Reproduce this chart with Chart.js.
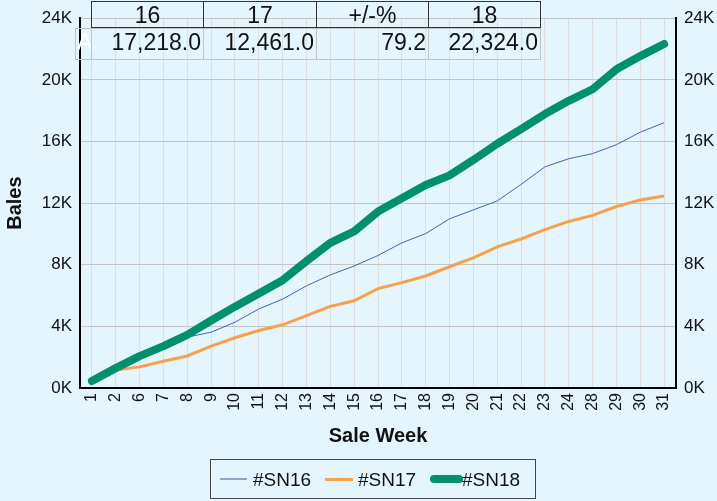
<!DOCTYPE html>
<html><head><meta charset="utf-8">
<script src="https://cdn.jsdelivr.net/npm/chart.js@4/dist/chart.umd.min.js"></script>
<style>
html,body{margin:0;padding:0;background:#E5F5FE;}
#wrap{position:relative;width:717px;height:501px;overflow:hidden;font-family:"Liberation Sans",Arial,sans-serif;}
#c{position:absolute;left:0;top:0;}
.cell{position:absolute;box-sizing:border-box;font-size:23px;color:#111;white-space:nowrap;}
.hd{border:1px solid #333;text-align:center;line-height:26px;}
.rw{border:1px solid #c2c2c2;text-align:right;padding-right:2px;line-height:27px;}
#legend{position:absolute;left:210px;top:459px;width:326px;height:40px;box-sizing:border-box;border:1px solid #444;}
.lg{position:absolute;}
.lt{position:absolute;font-size:19px;color:#111;line-height:20px;top:10px;}
</style></head>
<body>
<div id="wrap">
<canvas id="c" width="717" height="501"></canvas>
<div id="table"></div>
<div id="legend"></div>
</div>
<script>
const weeks = ['1','2','6','7','8','9','10','11','12','13','14','15','16','17','18','19','20','21','22','23','24','28','29','30','31'];
const sn16 = [450,1300,2000,2700,3300,3620,4270,5130,5770,6630,7340,7920,8600,9420,10020,10980,11560,12140,13210,14350,14880,15210,15790,16600,17218];
const sn17 = [450,1160,1370,1740,2080,2720,3260,3730,4100,4700,5300,5660,6450,6840,7270,7870,8450,9160,9670,10280,10810,11200,11780,12200,12461];
const sn18 = [450,1290,2070,2720,3450,4380,5280,6130,7000,8240,9420,10170,11450,12310,13170,13800,14800,15850,16800,17780,18640,19390,20680,21540,22324];
const seriesNames = ['#SN16','#SN17','#SN18'];
const yTicks = [0,4000,8000,12000,16000,20000,24000];
const tableHeaders = ['16','17','+/-%','18'];
const tableRowLabel = 'A';
const tableValues = [17218.0, 12461.0, 79.2, 22324.0];

const FAM = '"Liberation Sans", Arial, sans-serif';
const colors = ['#3f66a9','#f5a14d','#00916b'];
const widths = [1,3,8];

const tickCfg = {
  stepSize: 4000, padding: 8, color: '#111',
  font: {size: 17, family: FAM},
  callback: v => (v/1000) + 'K'
};

new Chart(document.getElementById('c'), {
  type: 'line',
  data: {
    labels: weeks,
    datasets: [
      {label: seriesNames[0], data: sn16, borderColor: colors[0], borderWidth: widths[0], order: 3},
      {label: seriesNames[1], data: sn17, borderColor: colors[1], borderWidth: widths[1], order: 2},
      {label: seriesNames[2], data: sn18, borderColor: colors[2], borderWidth: widths[2], order: 1,
       borderCapStyle: 'round', borderJoinStyle: 'round'}
    ]
  },
  options: {
    responsive: false, animation: false, devicePixelRatio: 1,
    elements: {point: {radius: 0}, line: {tension: 0}},
    layout: {padding: {top: 15, left: 0, right: 0, bottom: 53}},
    plugins: {legend: {display: false}, tooltip: {enabled: false}},
    scales: {
      x: {
        offset: true,
        grid: {offset: false, color: '#dedede', lineWidth: 1, drawTicks: false},
        border: {color: '#000', width: 2},
        ticks: {minRotation: 90, maxRotation: 90, autoSkip: false, padding: 5, color: '#111', font: {size: 16, family: FAM}},
        title: {display: true, text: 'Sale Week', color: '#111', font: {size: 20, weight: 'bold', family: FAM}, padding: {top: 0, bottom: 0}},
        afterFit(s) { s.height = 60; }
      },
      y: {
        min: 0, max: 24000,
        afterBuildTicks(s) { s.ticks = yTicks.map(v => ({value: v})); },
        ticks: tickCfg,
        grid: {color: '#c4c4c4', lineWidth: 1, drawTicks: false},
        border: {color: '#000', width: 2},
        title: {display: true, text: 'Bales', color: '#111', font: {size: 20, weight: 'bold', family: FAM}, padding: {top: 3, bottom: 3}},
        afterFit(s) { s.width = 80; }
      },
      y2: {
        position: 'right', min: 0, max: 24000,
        afterBuildTicks(s) { s.ticks = yTicks.map(v => ({value: v})); },
        ticks: tickCfg,
        grid: {display: false, drawTicks: false},
        border: {color: '#000', width: 2},
        afterFit(s) { s.width = 41; }
      }
    }
  }
});

// overlay table
const tbl = document.getElementById('table');
const colX = [91, 203, 316, 428, 540];
function addCell(cls, x, y, w, h, txt, extraStyle) {
  const d = document.createElement('div');
  d.className = 'cell ' + cls;
  d.style.left = x + 'px'; d.style.top = y + 'px';
  d.style.width = w + 'px'; d.style.height = h + 'px';
  if (extraStyle) Object.assign(d.style, extraStyle);
  d.textContent = txt;
  tbl.appendChild(d);
}
const fmt = (v, i) => i === 2 ? v.toFixed(1) : v.toLocaleString('en-US', {minimumFractionDigits: 1, maximumFractionDigits: 1});
tableHeaders.forEach((h, i) => addCell('hd', colX[i], 1, colX[i+1] - colX[i] + 1, 27, h));
addCell('rw', 75, 28, 17, 32, tableRowLabel, {textAlign: 'left', color: '#fff', paddingLeft: '1px'});
tableValues.forEach((v, i) => addCell('rw', colX[i], 28, colX[i+1] - colX[i] + 1, 32, fmt(v, i)));

// legend
const lg = document.getElementById('legend');
const samples = [
  {x: 9, w: 27, h: 2, c: '#8fa5c8', tx: 42},
  {x: 114, w: 28, h: 3, c: colors[1], tx: 147},
  {x: 219, w: 33, h: 8, c: colors[2], tx: 251, r: true}
];
samples.forEach((s, i) => {
  const l = document.createElement('div');
  l.className = 'lg';
  Object.assign(l.style, {left: s.x + 'px', top: (19 - s.h/2) + 'px', width: s.w + 'px', height: s.h + 'px', background: s.c, borderRadius: s.r ? '4px' : '0'});
  lg.appendChild(l);
  const t = document.createElement('div');
  t.className = 'lt';
  t.style.left = s.tx + 'px';
  t.textContent = seriesNames[i];
  lg.appendChild(t);
});
</script>
</body></html>
